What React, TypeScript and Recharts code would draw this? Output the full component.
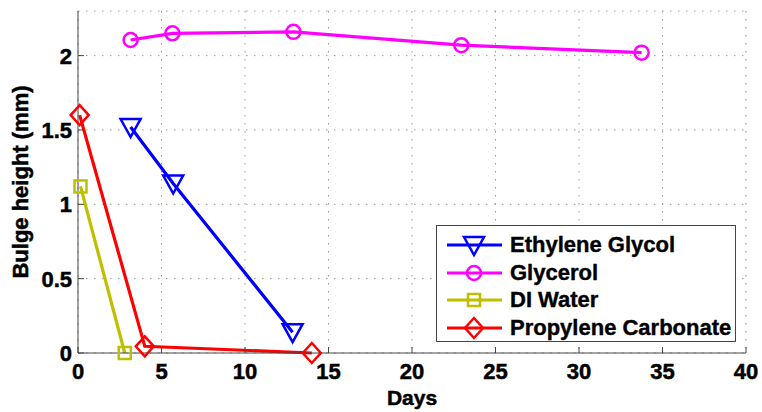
import {
  CartesianGrid,
  Label,
  Legend,
  Line,
  LineChart,
  XAxis,
  YAxis,
} from "recharts";

const DAY_TICKS = [0, 5, 10, 15, 20, 25, 30, 35, 40];
const HEIGHT_TICKS = [0, 0.5, 1, 1.5, 2];

const egDays = [3.15, 5.7, 12.85];
const egHeight = [1.52, 1.14, 0.14];
const glyDays = [3.15, 5.65, 12.9, 22.95, 33.75];
const glyHeight = [2.105, 2.15, 2.16, 2.07, 2.02];
const diDays = [0.15, 2.8];
const diHeight = [1.12, 0];
const pcDays = [0.1, 4.0, 14.0];
const pcHeight = [1.6, 0.045, 0];

const FONT = "'Liberation Sans', Arial, Helvetica, sans-serif";
const AXIS_COLOR = "#444";

type Kind = "triangle" | "circle" | "square" | "diamond";

const zip = (xs: number[], ys: number[]) => xs.map((x, i) => ({ x, y: ys[i] }));

const SERIES: { name: string; color: string; kind: Kind; data: { x: number; y: number }[] }[] = [
  { name: "Ethylene Glycol", color: "#0000ff", kind: "triangle", data: zip(egDays, egHeight) },
  { name: "Glycerol", color: "#ff00ff", kind: "circle", data: zip(glyDays, glyHeight) },
  { name: "DI Water", color: "#bfbf00", kind: "square", data: zip(diDays, diHeight) },
  { name: "Propylene Carbonate", color: "#ff0000", kind: "diamond", data: zip(pcDays, pcHeight) },
];

// heavier text, closer to the original export
const HEAVY = { fontFamily: FONT, fontWeight: "bold", fill: "#000", stroke: "#000", strokeWidth: 0.5 };

function Marker({ kind, cx, cy, color }: { kind: Kind; cx: number; cy: number; color: string }) {
  const common = { fill: "none", stroke: color, strokeWidth: 2.5 };
  switch (kind) {
    case "triangle":
      return <polygon points={`${cx - 10},${cy - 8} ${cx + 10},${cy - 8} ${cx},${cy + 10}`} {...common} />;
    case "circle":
      return <circle cx={cx} cy={cy} r={7} {...common} />;
    case "square":
      return <rect x={cx - 6} y={cy - 6} width={12} height={12} {...common} />;
    default:
      return <polygon points={`${cx},${cy - 10} ${cx + 9},${cy} ${cx},${cy + 10} ${cx - 9},${cy}`} {...common} />;
  }
}

function LegendBox() {
  return (
    <div
      style={{
        boxSizing: "border-box",
        width: 300,
        height: 117,
        border: `1px solid ${AXIS_COLOR}`,
        background: "#fff",
        paddingTop: 5,
        paddingLeft: 10,
        fontFamily: FONT,
        fontWeight: "bold",
        fontSize: 22,
        color: "#000",
        WebkitTextStroke: "0.4px #000",
      }}
    >
      {SERIES.map((s) => (
        <div key={s.name} style={{ display: "flex", alignItems: "center", height: 27.7 }}>
          <svg width={55} height={24} style={{ marginRight: 8, overflow: "visible" }}>
            <line x1={0} y1={12} x2={55} y2={12} stroke={s.color} strokeWidth={3} />
            <Marker kind={s.kind} cx={27} cy={12} color={s.color} />
          </svg>
          <span style={{ lineHeight: 1, whiteSpace: "nowrap" }}>{s.name}</span>
        </div>
      ))}
    </div>
  );
}

function XTick({ x, y, payload }: any) {
  return (
    <text x={x} y={y} dy="0.71em" textAnchor="middle" fontSize={22} {...HEAVY}>
      {payload.value}
    </text>
  );
}

function YTick({ x, y, payload }: any) {
  return (
    <text x={x} y={y} dy="0.36em" textAnchor="end" fontSize={22} {...HEAVY}>
      {payload.value}
    </text>
  );
}

function YTitle({ viewBox }: any) {
  const cx = viewBox.x + 28;
  const cy = viewBox.y + viewBox.height / 2;
  return (
    <text x={cx} y={cy} transform={`rotate(-90, ${cx}, ${cy})`} textAnchor="middle" fontSize={22} {...HEAVY}>
      Bulge height (mm)
    </text>
  );
}

function XTitle({ viewBox }: any) {
  return (
    <text x={viewBox.x + viewBox.width / 2} y={viewBox.y + 52} textAnchor="middle" fontSize={21} {...HEAVY}>
      Days
    </text>
  );
}

export default function App() {
  return (
    <div style={{ position: "absolute", left: 0, top: 0, background: "#fff" }}>
      <style>{"body{margin:0;background:#fff}"}</style>
      <LineChart width={762} height={412} margin={{ top: 11, right: 16, bottom: 0, left: 0 }}>
        <CartesianGrid stroke="#999" strokeDasharray="1.5 6.5" />
        <XAxis
          dataKey="x"
          type="number"
          domain={[0, 40]}
          ticks={DAY_TICKS}
          height={59}
          tickSize={-6}
          tickMargin={16}
          stroke={AXIS_COLOR}
          tick={<XTick />}
          allowDuplicatedCategory={false}
        >
          <Label content={XTitle} />
        </XAxis>
        <XAxis
          xAxisId="top"
          orientation="top"
          type="number"
          domain={[0, 40]}
          ticks={DAY_TICKS}
          height={0}
          tickSize={-6}
          tickFormatter={() => ""}
          stroke={AXIS_COLOR}
        />
        <YAxis
          type="number"
          domain={[0, 2.3]}
          ticks={HEIGHT_TICKS}
          width={78}
          tickSize={-6}
          tickMargin={12}
          stroke={AXIS_COLOR}
          tick={<YTick />}
          label={{ content: YTitle }}
        />
        <YAxis
          yAxisId="right"
          orientation="right"
          type="number"
          domain={[0, 2.3]}
          ticks={HEIGHT_TICKS}
          width={0}
          tickSize={-6}
          tickFormatter={() => ""}
          stroke={AXIS_COLOR}
        />
        {SERIES.map((s) => (
          <Line
            key={s.name}
            name={s.name}
            data={s.data}
            dataKey="y"
            stroke={s.color}
            strokeWidth={3.2}
            isAnimationActive={false}
            activeDot={false}
            dot={(p: any) => (
              <Marker key={`${s.name}-${p.index}`} kind={s.kind} cx={p.cx} cy={p.cy} color={s.color} />
            )}
          />
        ))}
        <Legend
          layout="vertical"
          align="center"
          verticalAlign="middle"
          wrapperStyle={{ left: 436, top: 225, width: 300, height: 117 }}
          content={() => <LegendBox />}
        />
      </LineChart>
    </div>
  );
}
